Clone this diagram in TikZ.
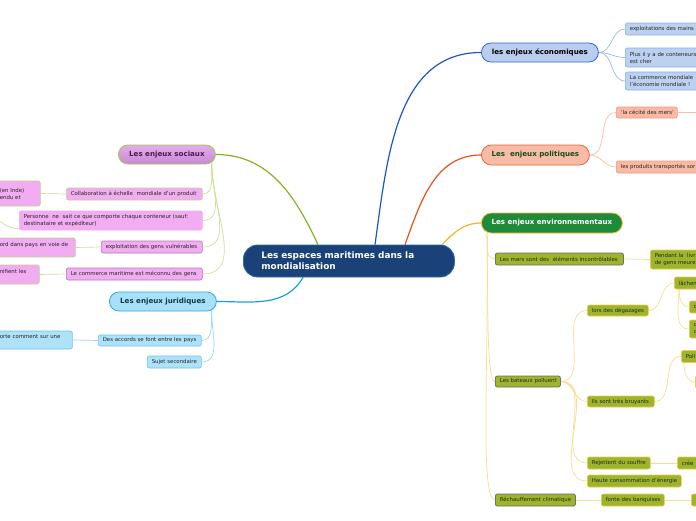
\documentclass[tikz,border=0pt]{standalone}
\usepackage{fontspec}
\setmainfont{DejaVu Sans}
\usetikzlibrary{backgrounds}
\definecolor{cenfill}{HTML}{1B4278}
\definecolor{cenborder}{HTML}{2E6DB0}
\definecolor{ecofill}{HTML}{BACDEF}
\definecolor{ecoborder}{HTML}{2A6AD0}
\definecolor{ecoline}{HTML}{1E55C8}
\definecolor{ecokidfill}{HTML}{BCD0F0}
\definecolor{ecokidborder}{HTML}{8AAEE8}
\definecolor{ecokidline}{HTML}{9CB8EC}
\definecolor{polfill}{HTML}{F8BBA6}
\definecolor{polborder}{HTML}{E8643C}
\definecolor{polline}{HTML}{E8501E}
\definecolor{polkidfill}{HTML}{F9BAA5}
\definecolor{polkidborder}{HTML}{F09A80}
\definecolor{polkidline}{HTML}{F8C0A8}
\definecolor{envfill}{HTML}{1E8A3A}
\definecolor{envborder}{HTML}{F0C030}
\definecolor{envline}{HTML}{F2B424}
\definecolor{envkidfill}{HTML}{9DB52C}
\definecolor{envkidgray}{HTML}{6E6E6E}
\definecolor{envkidyel}{HTML}{F2CA48}
\definecolor{envkidline}{HTML}{F8DC96}
\definecolor{soctop}{HTML}{E4ACEC}
\definecolor{socbot}{HTML}{C888D4}
\definecolor{socborder}{HTML}{A4C84C}
\definecolor{socline}{HTML}{84B424}
\definecolor{sockidfill}{HTML}{F2ACF2}
\definecolor{sockidborder}{HTML}{C8D090}
\definecolor{sockidpurple}{HTML}{B07CB8}
\definecolor{sockidline}{HTML}{CCE09A}
\definecolor{jurfill}{HTML}{A8E0F8}
\definecolor{jurborder}{HTML}{2EA8E6}
\definecolor{jurline}{HTML}{14A0E8}
\definecolor{jurkidfill}{HTML}{AEE2F8}
\definecolor{jurkidborder}{HTML}{6CC4EE}
\definecolor{jurkidline}{HTML}{96D6F6}
\definecolor{kidtext}{HTML}{262626}
\definecolor{poltext}{HTML}{1A4A20}
\definecolor{soctext}{HTML}{4A1A48}
\definecolor{jurtext}{HTML}{0E3A48}
\tikzset{
  kid/.style={draw, rounded corners=2pt, inner xsep=4.5pt, inner ysep=0pt, align=left,
    font=\fontsize{5.4}{7}\selectfont, text=kidtext, line width=0.6pt, anchor=west},
  mainnode/.style={draw, inner sep=0pt, align=center,
    font=\fontsize{7.1}{8.5}\selectfont\bfseries, line width=0.8pt, anchor=west},
  ecokid/.style={kid, fill=ecokidfill, draw=ecokidborder},
  polkid/.style={kid, fill=polkidfill, draw=polkidborder},
  envkidg/.style={kid, fill=envkidfill, draw=envkidgray, line width=0.8pt},
  envkidy/.style={kid, fill=envkidfill, draw=envkidyel},
  sockid/.style={kid, fill=sockidfill, draw=sockidborder},
  jurkid/.style={kid, fill=jurkidfill, draw=jurkidborder},
  link/.style={line width=0.7pt},
  envdrop/.style={out=-89, in=180, out looseness=1.2, in looseness=0.15},
}
\begin{document}
\begin{tikzpicture}[x=1pt,y=-1pt]
\useasboundingbox (0,0) rectangle (696,520);
\clip (0,0) rectangle (696,520);

% central
\node[draw=cenborder, fill=cenfill, line width=0.8pt, rounded corners=14pt, anchor=west,
  inner xsep=18pt, inner ysep=0pt, text width=175pt, minimum height=32pt, align=left,
  text=white, font=\fontsize{8.9}{11}\selectfont\bfseries] (c) at (243,261)
  {Les espaces maritimes dans la\\mondialisation};

% economiques
\node[mainnode, fill=ecofill, draw=ecoborder, minimum width=117pt, minimum height=19pt,
  rounded corners=9.5pt, text=black] (eco) at (481,52.5) {les enjeux économiques};
\node[ecokid, text width=81pt, minimum height=12pt] (e1) at (625,29) {\mbox{exploitations des mains}};
\node[ecokid, text width=81pt, minimum height=19pt] (e2) at (625,57.5) {Plus il y a de conteneurs\\est cher};
\node[ecokid, text width=81pt, minimum height=18pt] (e3) at (625,81) {La commerce mondiale\\l'économie mondiale !};

% politiques
\node[mainnode, fill=polfill, draw=polborder, minimum width=108pt, minimum height=20pt,
  rounded corners=10pt, text=poltext] (pol) at (481,155) {Les~~enjeux politiques};
\node[polkid, text width=52pt, minimum height=11pt] (p1) at (616,112.5) {\mbox{'la cécité des mers'}};
\node[polkid, text width=90pt, minimum height=12pt] (p2) at (616,167) {\mbox{les produits transportés sor}};
\coordinate (p1x) at (712,112.5);

% environnementaux
\node[mainnode, fill=envfill, draw=envborder, minimum width=141pt, minimum height=20pt,
  rounded corners=10pt, text=white] (env) at (481,223) {Les enjeux environnementaux};
\node[envkidg, text width=119pt, minimum height=12pt] (v1) at (495,259) {\mbox{Les mers sont des~~éléments incontrôlables}};
\node[envkidy, text width=60pt, minimum height=19pt] (v1a) at (650,259.5) {Pendant la~~livr\\de gens meure};
\node[envkidg, text width=56pt, minimum height=11pt] (v2) at (495,381.5) {\mbox{Les bateaux polluent}};
\node[envkidy, text width=52pt, minimum height=11pt] (v2a) at (587,310.5) {\mbox{lors des dégazages}};
\node[envkidy, text width=40pt, minimum height=12pt] (v2a1) at (674,283) {lâchen};
\node[envkidy, text width=20pt, minimum height=12pt] (v2a1a) at (689,307) {c};
\node[envkidy, text width=20pt, minimum height=18pt] (v2a1b) at (689,329) {c\\c};
\node[envkidy, text width=58pt, minimum height=11pt] (v2b) at (587,401.5) {\mbox{Ils sont très bruyants}};
\node[envkidy, text width=30pt, minimum height=12pt] (v2b1) at (681,356.5) {Poll};
\node[envkidy, text width=20pt, minimum height=12pt] (v2b1a) at (695,382) {};
\node[envkidy, text width=54pt, minimum height=12pt] (v2c) at (587,463) {\mbox{Rejettent du souffre}};
\node[envkidy, text width=30pt, minimum height=12pt] (v2c1) at (677,463) {crée};
\node[envkidy, text width=85pt, minimum height=12pt] (v2d) at (587,481) {\mbox{Haute consommation d'énergie}};
\node[envkidg, text width=71pt, minimum height=12pt] (v3) at (495,500) {\mbox{Réchauffement climatique}};
\node[envkidy, text width=54pt, minimum height=12pt] (v3a) at (601,500) {\mbox{fonte des banquises}};
\node[envkidy, text width=20pt, minimum height=12pt] (v3a1) at (691,500) {};

% sociaux
\node[mainnode, top color=soctop, bottom color=socbot, draw=socborder, minimum width=97pt,
  minimum height=19pt, rounded corners=9.5pt, text=soctext] (soc) at (118,154.5) {Les enjeux sociaux};
\node[sockid, text width=127pt, minimum height=12pt] (s1) at (66,194) {\mbox{Collaboration à échelle~~mondiale d'un produit}};
\node[sockid, text width=36pt, minimum height=25pt] (s1a) at (-5,193.5) {(en Inde)\\endu et};
\node[sockid, draw=sockidfill, text width=174pt, minimum height=19pt] (s2) at (19,220.5)
  {Personne~~ne~~sait ce que comporte chaque conteneur (sauf:\\destinataire et expéditeur)};
\coordinate (s2x) at (-12,215);
\node[sockid, draw=sockidpurple, text width=92pt, minimum height=12pt] (s3) at (101,247) {\mbox{exploitation des gens vulnérables}};
\node[sockid, text width=71pt, minimum height=19pt] (s3a) at (-5,247.5) {\mbox{ord dans pays en voie de}\\\mbox{}};
\node[sockid, draw=sockidpurple, text width=127pt, minimum height=12pt] (s4) at (66,274) {\mbox{Le commerce maritime est méconnu des gens}};
\node[sockid, text width=35pt, minimum height=19pt] (s4a) at (-5,274.5) {\mbox{nifient les}\\\mbox{}};

% juridiques
\node[mainnode, fill=jurfill, draw=jurborder, minimum width=107pt, minimum height=19pt,
  rounded corners=9.5pt, text=jurtext] (jur) at (109,301.5) {Les enjeux juridiques};
\node[jurkid, text width=94pt, minimum height=11pt] (j1) at (98,340.5) {\mbox{Des accords se font entre les pays}};
\node[jurkid, text width=68pt, minimum height=18pt] (j1a) at (-5,340) {\mbox{orte comment sur une}\\\mbox{}};
\node[jurkid, text width=45pt, minimum height=12pt] (j2) at (147,362) {\mbox{Sujet secondaire}};

\begin{scope}[on background layer]
\fill[white] (0,0) rectangle (696,520);
% main branches
\draw[line width=1.2pt, ecoline] ([xshift=132pt]c.north west) to[out=82,in=180] (eco.west);
\draw[line width=1.2pt, polline] ([xshift=162pt]c.north west) to[out=70,in=180] (pol.west);
\draw[line width=1.2pt, envline] ([xshift=199pt]c.north west) to[out=45,in=180] (env.west);
\draw[line width=1.2pt, socline] ([xshift=75pt]c.north west) to[out=115,in=0] (soc.east);
\draw[line width=1.2pt, jurline] ([xshift=60pt]c.south west) to[out=-120,in=0] (jur.east);
% eco kids
\draw[link, ecokidline] (eco.east) to[out=0,in=180] (e1.west);
\draw[link, ecokidline] (eco.east) to[out=0,in=180] (e2.west);
\draw[link, ecokidline] (eco.east) to[out=0,in=180] (e3.west);
% pol kids
\draw[link, polkidline] (pol.east) to[out=0,in=180] (p1.west);
\draw[link, polkidline] (pol.east) to[out=0,in=180] (p2.west);
\draw[link, polkidline] (p1.east) -- (p1x);
% env kids
\draw[link, envkidline] ([xshift=6pt]env.south west) to[out=-85,in=180] (v1.west);
\draw[link, envkidline] ([xshift=6pt]env.south west) to[envdrop] (v2.west);
\draw[link, envkidline] ([xshift=6pt]env.south west) to[envdrop] (v3.west);
\draw[link, envkidline] (v1.east) -- (v1a.west);
\draw[link, envkidline] (v2.east) to[out=0,in=180] (v2a.west);
\draw[link, envkidline] (v2.east) to[out=0,in=180] (v2b.west);
\draw[link, envkidline] (v2.east) to[out=0,in=180] (v2c.west);
\draw[link, envkidline] (v2.east) to[out=0,in=180] (v2d.west);
\draw[link, envkidline] (v2a.east) to[out=0,in=180] (v2a1.west);
\draw[link, envkidline] ([xshift=5pt]v2a1.south west) to[out=-90,in=180] (v2a1a.west);
\draw[link, envkidline] ([xshift=5pt]v2a1.south west) to[out=-90,in=180] (v2a1b.west);
\draw[link, envkidline] (v2b.east) to[out=0,in=180] (v2b1.west);
\draw[link, envkidline] ([xshift=3pt]v2b1.south west) to[out=-90,in=180] (v2b1a.west);
\draw[link, envkidline] (v2c.east) -- (v2c1.west);
\draw[link, envkidline] (v3.east) -- (v3a.west);
\draw[link, envkidline] (v3a.east) -- (v3a1.west);
% soc kids
\draw[link, sockidline] ([xshift=-4pt,yshift=1pt]soc.south east) to[out=-95,in=0] (s1.east);
\draw[link, sockidline] ([xshift=-4pt,yshift=1pt]soc.south east) to[out=-92,in=0] (s2.east);
\draw[link, sockidline] ([xshift=-4pt,yshift=1pt]soc.south east) to[out=-92,in=0] (s3.east);
\draw[link, sockidline] ([xshift=-4pt,yshift=1pt]soc.south east) to[out=-91,in=0] (s4.east);
\draw[link, sockidline] (s1.west) -- (s1a.east);
\draw[link, sockidline] ([yshift=1.5pt]s2.south west) to[out=180,in=-20] (s2x);
\draw[link, sockidline] (s3.west) -- (s3a.east);
\draw[link, sockidline] (s4.west) -- (s4a.east);
% jur kids
\draw[link, jurkidline] ([xshift=-5pt,yshift=1pt]jur.south east) to[out=-95,in=0] (j1.east);
\draw[link, jurkidline] ([xshift=-5pt,yshift=1pt]jur.south east) to[out=-93,in=0] (j2.east);
\draw[link, jurkidline] (j1.west) -- (j1a.east);
\end{scope}
\end{tikzpicture}
\end{document}
